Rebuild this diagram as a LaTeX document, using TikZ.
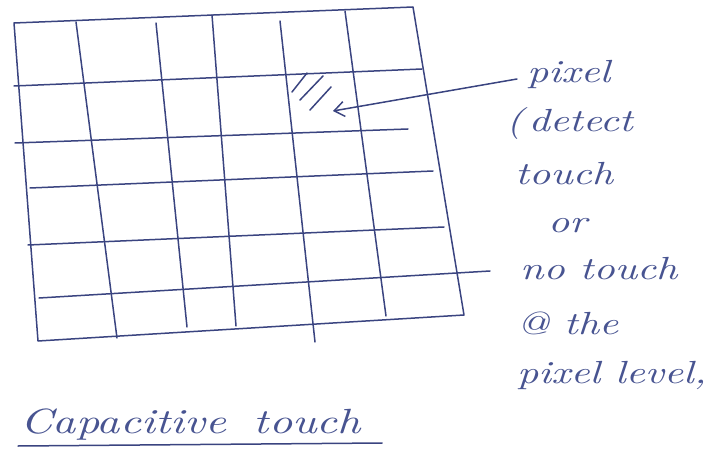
\documentclass[tikz,border=0pt]{standalone}
\usepackage{fontspec}
\newfontfamily\hand[FakeStretch=1.3]{lmroman10-italic.otf}
\usetikzlibrary{arrows.meta}
\definecolor{ink}{RGB}{58,68,128}
\definecolor{textink}{RGB}{72,84,145}
\begin{document}
\begin{tikzpicture}[x=1pt,y=-1pt,line cap=round,line join=round,
  gridline/.style={draw=ink,line width=1.5pt},
  hatch/.style={draw=ink,line width=1.5pt},
  hw/.style={text=textink,font=\hand\fontsize{32}{36}\selectfont,inner sep=0pt,anchor=base west},
  pointer/.style={draw=ink,line width=1.5pt,-{Straight Barb[length=10pt,width=15pt]}}]
\useasboundingbox (0,0) rectangle (709,457);
% grid border
\draw[gridline] (14,23) -- (413,7) -- (464,315) -- (38,341) -- cycle;
% vertical lines
\draw[gridline] (76,22) -- (117,338);
\draw[gridline] (156,23) -- (187,327);
\draw[gridline] (212,15) -- (236,326);
\draw[gridline] (280,21) -- (315,342);
\draw[gridline] (345,11) -- (386,316);
% horizontal lines
\draw[gridline] (14,86) -- (422,69);
\draw[gridline] (15,143) -- (408,129);
\draw[gridline] (30,188) -- (433,171);
\draw[gridline] (28,245) -- (444,227);
\draw[gridline] (39,298) -- (490,271);
% hatched pixel
\draw[hatch] (292,92) -- (307,73);
\draw[hatch] (300,100) -- (323,76);
\draw[hatch] (310,110) -- (331,87);
\coordinate (cell) at (333,111);
\coordinate (arrowstart) at (517,79);
% labels
\node[hw] (l1) at (527,83) {pixel};
\node[hw] (l2) at (506,132) {(\,detect};
\node[hw] (l3) at (515,185) {touch};
\node[hw] (l4) at (548,233) {or};
\node[hw] (l5) at (520,279) {no touch};
\node[hw] (l6) at (517,334) {@ the};
\node[hw] (l7) at (517,383) {pixel level,};
\draw[pointer] (arrowstart) -- (cell);
\node[hw,font=\hand\fontsize{35}{40}\selectfont] (cap) at (20,433) {Capacitive\,\, touch};
\coordinate (ul1) at (18,446);
\coordinate (ul2) at (382,443);
\draw[gridline] (ul1) -- (ul2);
\end{tikzpicture}
\end{document}
